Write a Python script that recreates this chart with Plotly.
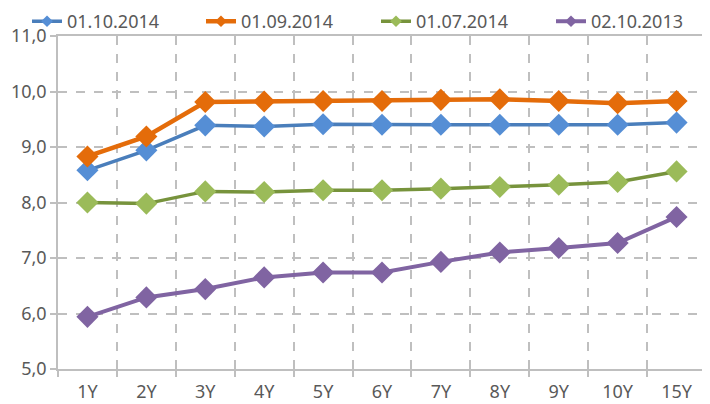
import plotly.graph_objects as go

categories = ["1Y", "2Y", "3Y", "4Y", "5Y", "6Y", "7Y", "8Y", "9Y", "10Y", "15Y"]
s_2014_10_01 = [8.58, 8.94, 9.39, 9.37, 9.41, 9.40, 9.40, 9.40, 9.40, 9.40, 9.44]
s_2014_09_01 = [8.83, 9.19, 9.81, 9.82, 9.83, 9.83, 9.85, 9.86, 9.83, 9.79, 9.83]
s_2014_07_01 = [8.00, 7.98, 8.20, 8.19, 8.22, 8.22, 8.25, 8.28, 8.32, 8.37, 8.56]
s_2013_10_02 = [5.94, 6.29, 6.44, 6.65, 6.74, 6.74, 6.93, 7.10, 7.18, 7.27, 7.74]
series_names = ["01.10.2014", "01.09.2014", "01.07.2014", "02.10.2013"]
y_ticks = [5, 6, 7, 8, 9, 10, 11]

series = [s_2014_10_01, s_2014_09_01, s_2014_07_01, s_2013_10_02]
line_colors = ["#4A7EBB", "#E46C0A", "#77933C", "#8064A2"]
marker_colors = ["#558ED5", "#E46C0A", "#9BBB59", "#8064A2"]
line_widths = [3.5, 4.5, 3.5, 4]
legend_ids = ["legend", "legend2", "legend3", "legend4"]
legend_x = [0.0271, 0.2749, 0.5242, 0.7735]

fig = go.Figure()
for name, vals, lc, mc, lw in zip(series_names, series, line_colors, marker_colors, line_widths):
    fig.add_trace(go.Scatter(
        x=categories, y=vals, mode="lines+markers", name=name, showlegend=False,
        line=dict(color=lc, width=lw),
        marker=dict(symbol="diamond", size=17, color=mc),
    ))
for name, lc, mc, lw, lid in zip(series_names, line_colors, marker_colors, line_widths, legend_ids):
    fig.add_trace(go.Scatter(
        x=[None], y=[None], mode="lines+markers", name=name, legend=lid,
        line=dict(color=lc, width=lw),
        marker=dict(symbol="diamond", size=9, color=mc),
    ))

grid = "#BFBFBF"
fig.update_layout(
    width=702, height=396,
    margin=dict(l=50, r=4, t=28, b=35, autoexpand=False),
    paper_bgcolor="white", plot_bgcolor="white",
    separators=", ",
    font=dict(family="Noto Sans", size=18, color="#595959"),
    xaxis=dict(type="category", categoryorder="array", categoryarray=categories,
               range=[-0.5, len(categories) - 0.5], tickson="boundaries",
               showgrid=True, gridcolor=grid, griddash="dash", gridwidth=1.5,
               showline=True, linecolor=grid, linewidth=1.5, mirror=True,
               ticks="outside", ticklen=6, tickcolor=grid, tickwidth=1.5,
               ticklabelstandoff=6,
               tickfont=dict(size=18, color="#595959")),
    yaxis=dict(range=[5, 11], tickvals=y_ticks, tickformat=".1f",
               showgrid=True, gridcolor=grid, griddash="dash", gridwidth=1.5,
               showline=True, linecolor=grid, linewidth=1.5, mirror=True,
               ticks="outside", ticklen=6, tickcolor=grid, tickwidth=1.5,
               zeroline=False, tickfont=dict(size=18, color="#595959")),
)
for lid, lx in zip(legend_ids, legend_x):
    fig.update_layout({lid: dict(orientation="h", xref="container", yref="paper",
                                 x=lx, xanchor="left", y=1.099, yanchor="top",
                                 font=dict(size=18, color="#595959"), itemsizing="trace",
                                 bgcolor="rgba(0,0,0,0)")})

fig.write_html("out.html")
